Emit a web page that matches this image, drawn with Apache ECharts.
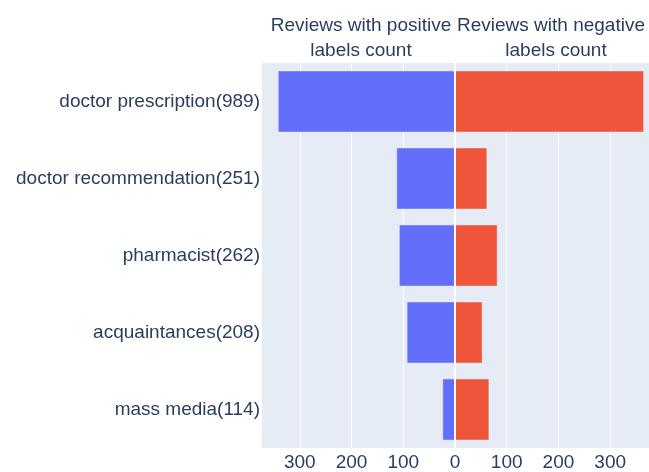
<!DOCTYPE html>
<html>
<head>
    <meta charset="utf-8">
    <title>Reviews</title>
    <script type="text/javascript" src="https://cdn.jsdelivr.net/npm/echarts@6/dist/echarts.min.js"></script>
    <style>
        html, body { margin: 0; padding: 0; background: #fff; }
    </style>
</head>
<body>
    <div id="main" style="width: 649px;height:472px;"></div>
    <script type="text/javascript">
    var categories = ['doctor prescription(989)', 'doctor recommendation(251)', 'pharmacist(262)', 'acquaintances(208)', 'mass media(114)'];
    var positive = [342, 113, 108, 93, 24];
    var negative = [365, 62, 82, 53, 66];
    var tickValues = [-300, -200, -100, 0, 100, 200, 300];

    var myChart = echarts.init(document.getElementById('main'));
    var font = 'Arial, "Liberation Sans", sans-serif';
    var ink = '#2a3f5f';
    var titleStyle = { fontFamily: font, fontSize: 19, fontWeight: 'normal', color: ink, lineHeight: 24.5 };

    option = {
        animation: false,
        backgroundColor: '#fff',
        title: [
            { text: 'Reviews with positive\nlabels count', left: 356, top: 9, textAlign: 'center', textStyle: titleStyle },
            // right-hand title: first line is pushed in a little so it stays inside the figure
            { text: 'Reviews with negative', left: 546, top: 9, textAlign: 'center', textStyle: titleStyle },
            { text: 'labels count', left: 551, top: 33.5, textAlign: 'center', textStyle: titleStyle }
        ],
        grid: {
            left: 262,
            right: 0,
            top: 63,
            bottom: 23,
            show: true,
            backgroundColor: '#E5ECF6',
            borderWidth: 0
        },
        xAxis: {
            type: 'value',
            min: -373,
            max: 375,
            axisLine: { show: false },
            axisTick: { show: false, customValues: tickValues },
            axisLabel: {
                customValues: tickValues,
                formatter: function (v) { return Math.abs(v); },
                fontFamily: font,
                fontSize: 19,
                color: ink,
                margin: 5
            },
            splitLine: { show: true, lineStyle: { color: '#fff', width: 1 } }
        },
        yAxis: {
            type: 'category',
            inverse: true,
            data: categories,
            axisLine: { show: false },
            axisTick: { show: false },
            splitLine: { show: false },
            axisLabel: {
                fontFamily: font,
                fontSize: 19,
                color: ink,
                margin: 2
            }
        },
        series: [
            {
                type: 'line',
                data: [],
                z: 1,
                markLine: {
                    silent: true,
                    symbol: 'none',
                    label: { show: false },
                    lineStyle: { color: '#fff', width: 2, type: 'solid' },
                    data: [{ xAxis: 0 }]
                }
            },
            {
                name: 'positive',
                type: 'bar',
                z: 3,
                barGap: '-100%',
                barCategoryGap: '20%',
                itemStyle: { color: '#636EFA', borderColor: '#E5ECF6', borderWidth: 0.5 },
                data: positive.map(function (v) { return -v; })
            },
            {
                name: 'negative',
                type: 'bar',
                z: 3,
                barGap: '-100%',
                barCategoryGap: '20%',
                itemStyle: { color: '#EF553B', borderColor: '#E5ECF6', borderWidth: 0.5 },
                data: negative
            }
        ]
    };

    myChart.setOption(option);
    </script>
</body>
</html>
